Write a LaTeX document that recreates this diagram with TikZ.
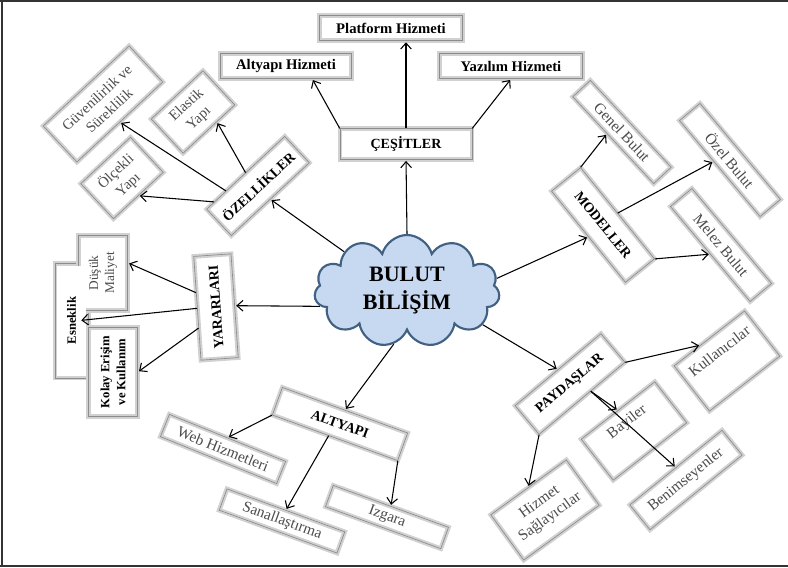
\documentclass[tikz,border=0pt]{standalone}
\usepackage{fontspec}
\setmainfont{Liberation Serif}
\usetikzlibrary{shapes.symbols,arrows.meta,calc}
\definecolor{cloudfill}{RGB}{198,217,240}
\definecolor{cloudline}{RGB}{65,96,130}
\tikzset{
  box/.style={fill=white, inner sep=2pt, align=center,
    postaction={draw=black!18, line width=3.5pt},
    postaction={draw=black!45, line width=0.5pt}},
  head/.style={box, font=\fontsize{10.5}{12}\selectfont\bfseries},
  top/.style={box, font=\fontsize{11}{13}\selectfont\bfseries, minimum height=19pt},
  leaf/.style={box, font=\fontsize{11.5}{13.5}\selectfont, text=black!70},
  arr/.style={-{Straight Barb[length=4.5pt,width=8pt]}, line width=0.8pt, shorten >=1pt},
}
\begin{document}
\begin{tikzpicture}[x=0.75pt, y=-0.75pt]
\useasboundingbox (0,0) rectangle (788,567);
\draw[black!80, line width=1.5pt] (0,1) -- (788,1);
\draw[black!80, line width=1.5pt] (2,0) -- (2,567);
\draw[black!80, line width=1.5pt] (0,566) -- (788,566);
% merkez
\node[cloud, cloud puffs=11, aspect=1.65, draw=cloudline, fill=cloudfill, line width=1.6pt, minimum width=139pt, minimum height=84pt, inner sep=0pt, align=center, font=\fontsize{16.5}{21}\selectfont\bfseries] (cld) at (407,291){BULUT\\BİLİŞİM};
% cesitler
\node[head, minimum width=99pt, minimum height=23pt] (cesit) at (406,144){ÇEŞİTLER};
\node[top, minimum width=98pt] (altH) at (286,66){Altyapı Hizmeti};
\node[top, minimum width=107pt] (platH) at (391,28){Platform Hizmeti};
\node[top, minimum width=107pt] (yazH) at (511,66){Yazılım Hizmeti};
% ozellikler
\node[head, rotate=43, minimum width=80pt, minimum height=27pt] (ozel) at (258,186){ÖZELLİKLER};
\node[leaf, rotate=43, minimum width=88pt, minimum height=37pt, font=\fontsize{11}{13.5}\selectfont] (guven) at (103,104){Güvenilirlik ve\\Süreklilik};
\node[leaf, rotate=43, minimum width=53pt, minimum height=35pt, font=\fontsize{11}{13.5}\selectfont] (elast) at (193,112){Elastik\\Yapı};
\node[leaf, rotate=43, minimum width=51pt, minimum height=36pt, font=\fontsize{11}{13.5}\selectfont] (olcek) at (122,178){Ölçekli\\Yapı};
% yararlari
\node[head, rotate=94, minimum width=78pt, minimum height=28pt] (yarar) at (216,307){YARARLARI};
\node[box, rotate=90, minimum width=86pt, minimum height=25pt] (esnekF) at (71.5,320.5){};
\node[box, rotate=90, minimum width=56pt, minimum height=37pt] (dusukF) at (103,273){};
\node[box, rotate=90, minimum width=67pt, minimum height=37pt] (kolayF) at (113,372){};
\node[fill=white, rotate=90, minimum width=82.5pt, minimum height=21.5pt, inner sep=0pt, font=\fontsize{9.5}{11}\selectfont\bfseries] (esnek) at (71.5,320.5){Esneklik};
\node[fill=white, rotate=90, minimum width=52.5pt, minimum height=33.5pt, inner sep=0pt, align=center, text=black!70, font=\fontsize{10}{12}\selectfont] (dusuk) at (103,273){Düşük\\Maliyet};
\node[fill=white, rotate=90, minimum width=63.5pt, minimum height=33.5pt, inner sep=0pt, align=center, font=\fontsize{9.5}{12}\selectfont\bfseries] (kolay) at (113,372){Kolay Erişim\\ve Kullanım};
% altyapi
\node[head, rotate=-20, minimum width=100pt, minimum height=22pt] (altyp) at (340,424){ALTYAPI};
\node[leaf, rotate=-22, minimum width=94pt, minimum height=18pt] (web) at (223,449){Web Hizmetleri};
\node[leaf, rotate=-20, minimum width=94pt, minimum height=17pt] (sanal) at (282,521){Sanallaştırma};
\node[leaf, rotate=-20, minimum width=92pt, minimum height=17pt] (izg) at (387,517){Izgara};
% modeller
\node[head, rotate=-51, minimum width=88pt, minimum height=28pt] (model) at (603,225){MODELLER};
\node[leaf, rotate=-47, minimum width=89pt, minimum height=18pt] (genel) at (622,132){Genel Bulut};
\node[leaf, rotate=-50, minimum width=94pt, minimum height=20pt] (ozelB) at (730,160){Özel Bulut};
\node[leaf, rotate=-50, minimum width=93pt, minimum height=21pt] (melez) at (721,245){Melez Bulut};
% paydaslar
\node[head, rotate=40, minimum width=84pt, minimum height=28pt] (payd) at (570,384){PAYDAŞLAR};
\node[leaf, rotate=38, minimum width=67pt, minimum height=43pt, text height=8pt, text depth=19pt] (kull) at (727,361){Kullanıcılar};
\node[leaf, rotate=38, minimum width=70pt, minimum height=39pt, text height=8pt, text depth=19pt] (bayi) at (634,431){Bayiler};
\node[leaf, rotate=39, minimum width=89pt, minimum height=24pt] (benim) at (686,480){Benimseyenler};
\node[leaf, rotate=36, minimum width=70pt, minimum height=42pt] (hizm) at (545,510){Hizmet\\Sağlayıcılar};
% oklar
\draw[arr] (cld.north) -- (cesit.south);
\draw[arr] (cesit.north) -- (cesit.north |- platH.south);
\draw[arr] (cesit.north west) -- ($(altH.south)!0.4!(altH.south east)$);
\draw[arr] (cesit.north east) -- (yazH.south);
\draw[arr] (cld.148) -- (ozel.south);
\draw[arr] (ozel.north) -- ($(elast.south)!0.3!(elast.south east)$);
\draw[arr] ($(ozel.north)!0.5!(ozel.north west)$) -- (guven.south);
\draw[arr] ($(ozel.north west)!0.2!(ozel.north)$) -- (olcek.south);
\draw[arr] (cld.190) -- (yarar.south);
\draw[arr] ($(yarar.north)!0.3!(yarar.north east)$) -- ($(dusukF.south)!0.27!(dusukF.south east)$);
\draw[arr] (yarar.north) -- ($(esnekF)!0.5!(esnekF.south)$);
\draw[arr] ($(yarar.north)!0.38!(yarar.north west)$) -- (kolayF.south);
\draw[arr] (cld.256) -- (altyp.north);
\draw[arr] (altyp.south west) -- (web.north);
\draw[arr] ($(altyp.south)!0.1!(altyp.south west)$) -- (sanal.north);
\draw[arr] (altyp.south east) -- (izg.north);
\draw[arr] (cld.8) -- (model.south);
\draw[arr] (model.north west) -- ($(genel.south)!0.15!(genel.south west)$);
\draw[arr] (model.north) -- ($(ozelB.south)!0.15!(ozelB.south west)$);
\draw[arr] (model.north east) -- (melez.south);
\draw[arr] (cld.336) -- (payd.north);
\draw[arr] (payd.south east) -- ($(kull.north)!0.25!(kull.north west)$);
\draw[arr] ($(payd.south)!0.2!(payd.south east)$) -- (bayi.north);
\draw[arr] ($(payd.south)!0.2!(payd.south east)$) -- (benim.north);
\draw[arr] (payd.south west) -- (hizm.north);
\end{tikzpicture}
\end{document}
